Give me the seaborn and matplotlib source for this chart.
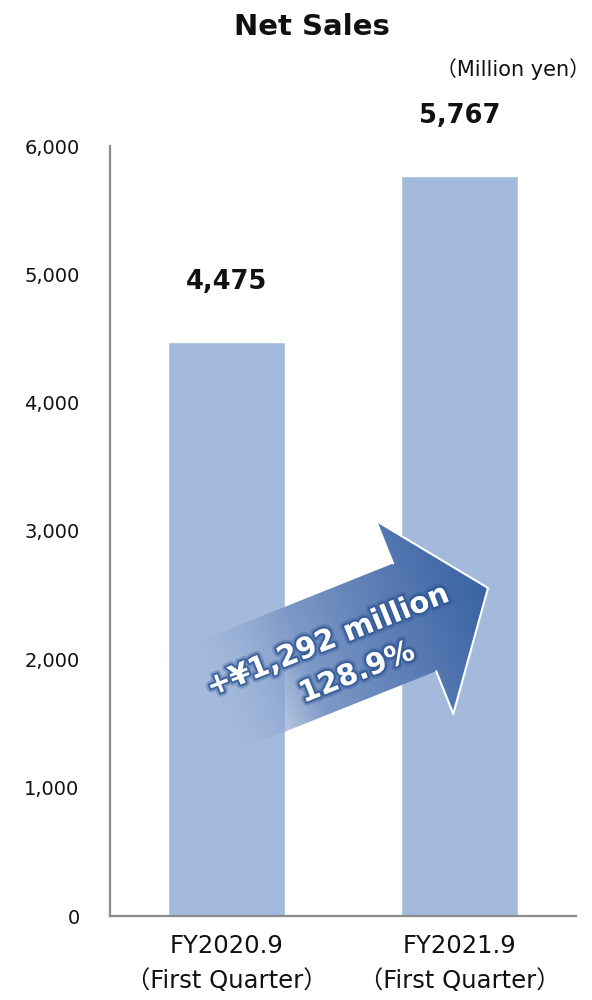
import numpy as np
import pandas as pd
import matplotlib
matplotlib.use('Agg')
import matplotlib.pyplot as plt
import seaborn as sns
from matplotlib.patches import Polygon
from matplotlib import patheffects as pe
from matplotlib.ticker import FuncFormatter

# ─── Data ─────────────────────────────────────────────────────────────────────
PERIODS     = ['FY2020.9\n（First Quarter）', 'FY2021.9\n（First Quarter）']
NET_SALES   = [4475, 5767]
DIFF_LABEL  = '+¥1,292 million'
RATIO_LABEL = '128.9%'
Y_TICKS     = [0, 1000, 2000, 3000, 4000, 5000, 6000]

BAR_COLOR   = '#A3BADC'
SPINE_COLOR = '#8C8C8C'

sns.set_theme(style='white')
plt.rcParams['font.family'] = ['DejaVu Sans', 'Noto Sans CJK JP']

df = pd.DataFrame({'period': PERIODS, 'sales': NET_SALES})

fig = plt.figure(figsize=(5.92, 10), dpi=100)
ax = fig.add_axes([0.186, 0.084, 0.787, 0.770])

sns.barplot(data=df, x='period', y='sales', color=BAR_COLOR, width=0.5,
            saturation=1, ax=ax)
ax.set_xlim(-0.5, 1.5)
ax.set_ylim(0, 6000)
ax.set_yticks(Y_TICKS)
ax.yaxis.set_major_formatter(FuncFormatter(lambda v, _: f'{int(v):,}'))
ax.set_xlabel(''); ax.set_ylabel('')
ax.tick_params(axis='y', length=0, pad=22, labelsize=14, colors='#111111')
ax.tick_params(axis='x', length=0, pad=13, labelsize=17.5, colors='#111111')
for lbl in ax.get_xticklabels():
    lbl.set_linespacing(1.55)

for side in ['top', 'right']:
    ax.spines[side].set_visible(False)
for side in ['left', 'bottom']:
    ax.spines[side].set_color(SPINE_COLOR)
    ax.spines[side].set_linewidth(1.6)

# value labels above bars
for i, v in enumerate(NET_SALES):
    ax.annotate(f'{v:,}', xy=(i, v), xytext=(0, 43), textcoords='offset points',
                ha='center', va='center', fontsize=18.5, fontweight='bold',
                color='#111111')

fig.text(0.527, 0.973, 'Net Sales', ha='center', va='center',
         fontsize=21, fontweight='bold', color='#111111')
fig.text(0.997, 0.931, '（Million yen）', ha='right', va='center',
         fontsize=15, color='#111111')

# ─── Growth arrow (overlay in pixel space) ────────────────────────────────────
ov = fig.add_axes([0, 0, 1, 1], zorder=5)
ov.set_xlim(0, 592); ov.set_ylim(1000, 0); ov.axis('off')

theta = np.deg2rad(21.8)
u = np.array([np.cos(theta), -np.sin(theta)])
n = np.array([np.sin(theta), np.cos(theta)])
tip = np.array([488.0, 588.0])
head_len, head_half, shaft_half, shaft_len = 79, 104, 58, 250
base = tip - head_len * u
tail = base - shaft_len * u
pts = [tail - shaft_half * n, base - shaft_half * n, base - head_half * n, tip,
       base + head_half * n, base + shaft_half * n, tail + shaft_half * n]
poly = Polygon(pts, closed=True, facecolor='none', edgecolor='none')
ov.add_patch(poly)

xs = np.linspace(140, 500, 360)
ys = np.linspace(500, 800, 300)
X, Y = np.meshgrid(xs, ys)
t = ((X - tail[0]) * u[0] + (Y - tail[1]) * u[1]) / (shaft_len + head_len)
t = np.clip(t, 0, 1)
c0 = np.array(matplotlib.colors.to_rgb('#BCCDE8'))
c1 = np.array(matplotlib.colors.to_rgb('#3A62A3'))
tc = t ** 0.8
rgba = np.zeros(X.shape + (4,))
for k in range(3):
    rgba[..., k] = c0[k] + (c1[k] - c0[k]) * tc
rgba[..., 3] = np.clip(t * 2.5, 0, 1)
im = ov.imshow(rgba, extent=(140, 500, 800, 500), origin='upper',
               interpolation='bilinear')
im.set_clip_path(poly)
# white outline on the head
ov.plot([pts[1][0], pts[2][0], pts[3][0], pts[4][0], pts[5][0]],
        [pts[1][1], pts[2][1], pts[3][1], pts[4][1], pts[5][1]],
        color='white', lw=1.5)

glow = [pe.Stroke(linewidth=6, foreground='#2E5694', alpha=0.3),
        pe.Stroke(linewidth=3, foreground='#2E5694', alpha=0.75),
        pe.Normal()]
ov.text(328, 641, DIFF_LABEL, rotation=21.8, rotation_mode='anchor',
        ha='center', va='center', fontsize=21, fontweight='bold',
        color='white', path_effects=glow)
ov.text(357, 673, RATIO_LABEL, rotation=21.8, rotation_mode='anchor',
        ha='center', va='center', fontsize=21, fontweight='bold',
        color='white', path_effects=glow)

fig.savefig('out.png', dpi=100)
